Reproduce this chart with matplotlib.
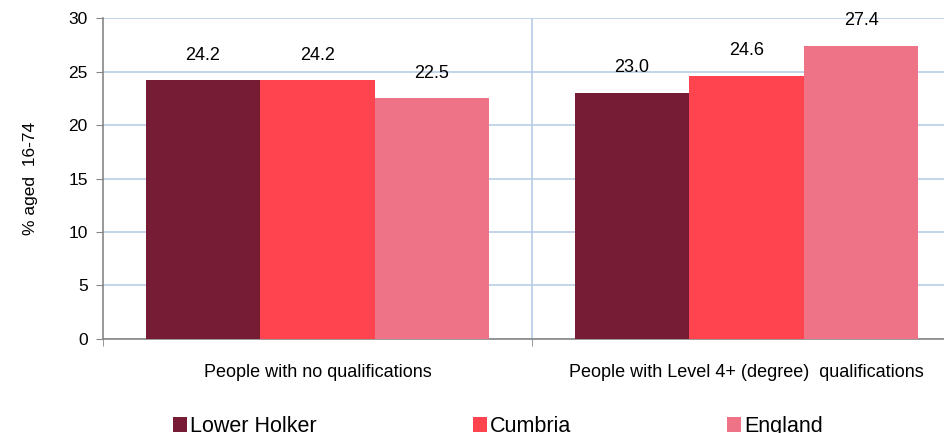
import matplotlib.pyplot as plt
from matplotlib.patches import Patch
import numpy as np

categories = ["People with no qualifications", "People with Level 4+ (degree)  qualifications"]
series_names = ["Lower Holker", "Cumbria", "England"]
lower_holker = [24.2, 23.0]
cumbria = [24.2, 24.6]
england = [22.5, 27.4]
colors = ["#761C34", "#FF434F", "#EE7386"]

plt.rcParams['font.family'] = ['Liberation Sans', 'DejaVu Sans']

fig = plt.figure(figsize=(9.44, 4.33), dpi=100)
ax = fig.add_axes([0.1091, 0.2171, 0.9089, 0.7413])

x = np.arange(len(categories))
width = 0.267
values = [lower_holker, cumbria, england]
for i, (vals, col) in enumerate(zip(values, colors)):
    pos = x + (i - 1) * width
    ax.bar(pos, vals, width=width, color=col, zorder=3)
    for px, v in zip(pos, vals):
        ax.annotate(f"{v:.1f}", (px, v), xytext=(0, 18), textcoords="offset points",
                    ha="center", va="center", fontsize=13)

ax.set_xlim(-0.5, 1.5)
ax.set_ylim(0, 30)
ax.set_yticks(range(0, 31, 5))
ax.yaxis.grid(True, color="#B9CDE5", linewidth=1.2, zorder=0)
ax.axvline(0.5, color="#B9CDE5", linewidth=1.2, zorder=0)

ax.set_xticks(x)
ax.set_xticklabels(categories, fontsize=13)
ax.set_xticks([-0.5, 0.5, 1.5], minor=True)
ax.tick_params(axis="x", which="major", length=0, pad=18)
ax.tick_params(axis="x", which="minor", length=5, color="#868686", direction="out")
ax.tick_params(axis="y", length=5, color="#868686", pad=6, labelsize=12.5)

for s in ["top", "right"]:
    ax.spines[s].set_visible(False)
ax.spines["left"].set_color("#868686")
ax.spines["bottom"].set_color("#868686")
ax.spines["left"].set_linewidth(1.2)
ax.spines["bottom"].set_linewidth(1.2)

ax.set_ylabel("% aged  16-74", fontsize=12.5, labelpad=22)

handles = [Patch(facecolor=c, edgecolor="none") for c in colors]
fig.legend(handles, series_names, loc="center left", bbox_to_anchor=(0.183, 0.015),
           ncol=3, frameon=False, fontsize=15.5, handlelength=0.65, handleheight=0.65,
           handletextpad=0.15, columnspacing=7.25, borderpad=0, borderaxespad=0)

fig.savefig("out.png", dpi=100)
